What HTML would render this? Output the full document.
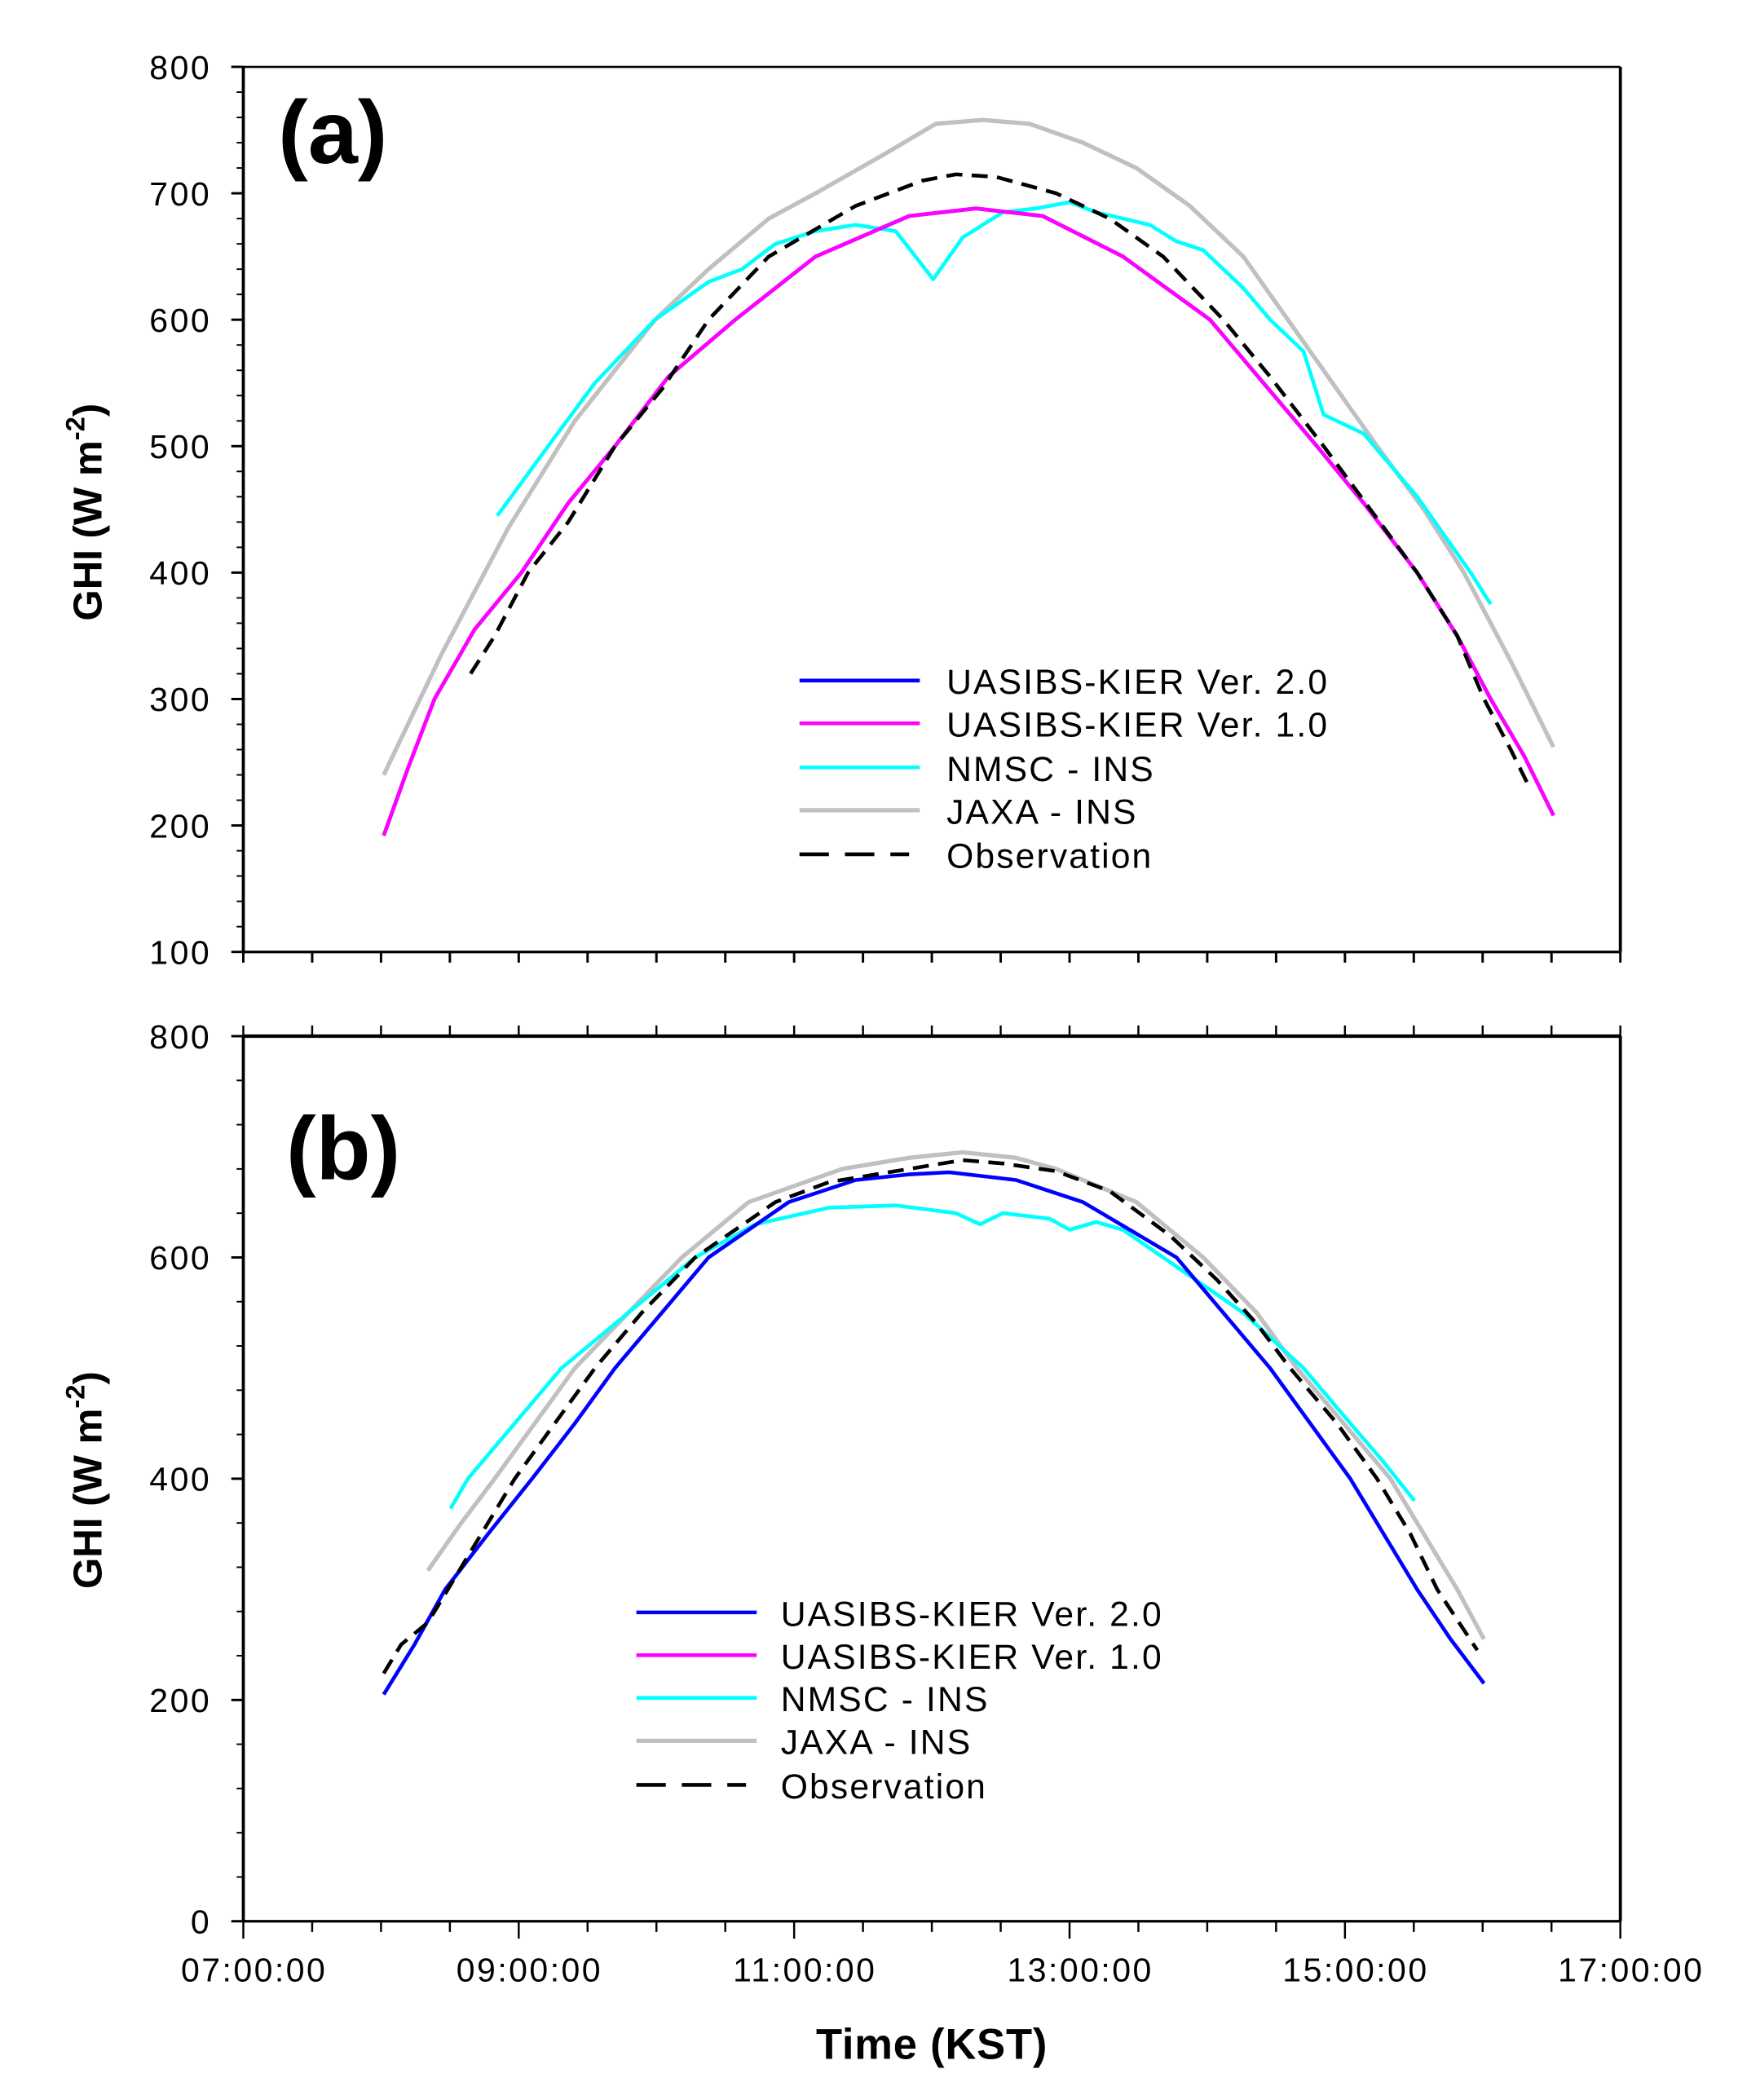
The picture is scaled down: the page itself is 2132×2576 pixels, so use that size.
<!DOCTYPE html>
<html><head><meta charset="utf-8"><style>
html,body{margin:0;padding:0;background:#fff}
svg{display:block}
text{font-family:"Liberation Sans",Arial,sans-serif;fill:#000}
</style></head><body>
<svg id="s" width="2132" height="2576" viewBox="0 0 1300 1570.7" preserveAspectRatio="none" xmlns="http://www.w3.org/2000/svg">
<g id="g"></g>
<text x="208" y="122" font-size="67" font-weight="bold">(a)</text>
<text x="214" y="882" font-size="67" font-weight="bold">(b)</text>
<text x="697" y="1540" font-size="32" font-weight="bold" text-anchor="middle" letter-spacing="0.5">Time (KST)</text>
<text transform="translate(76,383) rotate(-90)" font-size="30" font-weight="bold" text-anchor="middle">GHI (W m<tspan dy="-13" font-size="20">-2</tspan><tspan dy="13">)</tspan></text>
<text transform="translate(76,1107) rotate(-90)" font-size="30" font-weight="bold" text-anchor="middle">GHI (W m<tspan dy="-13" font-size="20">-2</tspan><tspan dy="13">)</tspan></text>
</svg>
<script>
var NS="http://www.w3.org/2000/svg",g=document.getElementById('g');
function el(t,a,txt){var e=document.createElementNS(NS,t);for(var k in a)e.setAttribute(k,a[k]);if(txt!=null)e.textContent=txt;g.appendChild(e);return e;}
function ya(v){return 50+(800-v)*0.9457;}
function yb(v){return 1437-v*0.8275;}
function line(pts,yf,col,w,dash){var s=pts.map(function(p){return p[0]+","+yf(p[1]).toFixed(1)}).join(" ");var a={points:s,fill:"none",stroke:col,"stroke-width":w,"stroke-linejoin":"round"};if(dash)a["stroke-dasharray"]=dash;el("polyline",a);}
function axes(top,bot){
  el("line",{x1:182,y1:top,x2:1212,y2:top,stroke:"#000","stroke-width":top>700?2.6:1.6});
  el("line",{x1:182,y1:bot,x2:1212,y2:bot,stroke:"#000","stroke-width":2});
  el("line",{x1:182,y1:top,x2:182,y2:bot,stroke:"#000","stroke-width":2.3});
  el("line",{x1:1212,y1:top,x2:1212,y2:bot,stroke:"#000","stroke-width":2.3});
}
axes(50,712);axes(775,1437);
for(var v=100;v<=800;v+=20){var y=ya(v),maj=(v%100==0);el("line",{x1:maj?173:177,y1:y,x2:182,y2:y,stroke:"#000","stroke-width":maj?1.8:1.2});if(maj)el("text",{x:158,y:y+9,"font-size":25,"text-anchor":"end","letter-spacing":"1.5"},v);}
for(var v=0;v<=800;v+=40){var y=yb(v),maj=(v%200==0);el("line",{x1:maj?173:177,y1:y,x2:182,y2:y,stroke:"#000","stroke-width":maj?1.8:1.2});if(maj)el("text",{x:158,y:y+9,"font-size":25,"text-anchor":"end","letter-spacing":"1.5"},v);}
for(var i=0;i<=20;i++){var x=182+i*51.5,maj=(i%4==0);
 el("line",{x1:x,y1:712,x2:x,y2:720,stroke:"#000","stroke-width":1.8});
 el("line",{x1:x,y1:775,x2:x,y2:767,stroke:"#000","stroke-width":1.5});
 el("line",{x1:x,y1:1437,x2:x,y2:maj?1450:1445,stroke:"#000","stroke-width":1.5});
 if(maj){var h=7+i/2;el("text",{x:x+8,y:1482,"font-size":25,"text-anchor":"middle","letter-spacing":"1.5"},(h<10?"0":"")+h+":00:00");}
}
var magA=[[287,192],[305,245],[325,300],[355,355],[390,400],[425,455],[460,500],[500,555],[550,600],[610,650],[680,682],[730,688],[780,682],[840,650],[905,600],[945,550],[985,500],[1020,455],[1060,400],[1090,350],[1115,300],[1140,255],[1162,208]];
var gryA=[[287,240],[330,335],[380,435],[430,520],[490,600],[530,640],[575,680],[610,700],[660,730],[700,755],[735,758],[770,755],[810,740],[850,720],[890,690],[930,650],[990,560],[1030,500],[1065,450],[1095,400],[1130,330],[1162,262]];
var obsA=[[352,320],[370,350],[395,400],[425,440],[460,500],[495,545],[530,600],[575,650],[640,690],[690,710],[715,715],[745,713],[790,700],[830,680],[870,650],[915,600],[950,555],[990,500],[1025,450],[1060,400],[1090,350],[1110,300],[1130,260],[1145,228]];
var cyA=[[372,445],[410,500],[445,550],[490,600],[530,630],[555,640],[580,660],[610,670],[640,675],[670,670],[698,632],[720,665],[750,685],[775,688],[800,693],[820,685],[840,680],[860,675],[880,662],[900,655],[930,625],[950,600],[975,575],[990,525],[1020,510],[1060,460],[1100,400],[1115,375]];
line(gryA,ya,"#c0c0c0",3.2);
line(cyA,ya,"#00ffff",2.8);
line(magA,ya,"#0000ff",2.8);
line(magA,ya,"#ff00ff",2.8);
line(obsA,ya,"#000",2.8,"12,7");
var bluB=[[287,205],[310,250],[333,300],[365,350],[398,400],[430,450],[460,500],[495,550],[530,600],[590,650],[640,670],[680,675],[710,677],[760,670],[810,650],[880,600],[915,550],[950,500],[980,450],[1010,400],[1035,350],[1060,300],[1085,255],[1110,215]];
var obsB=[[287,224],[300,250],[320,270],[335,300],[360,350],[385,400],[415,450],[445,500],[480,550],[520,600],[580,650],[620,668],[680,680],[720,688],[750,685],[790,678],[830,660],[875,620],[910,580],[940,540],[965,500],[1000,450],[1030,400],[1055,350],[1075,300],[1105,245]];
var gryB=[[320,317],[345,360],[370,400],[400,450],[430,500],[470,550],[510,600],[560,650],[630,680],[680,690],[720,695],[760,690],[790,680],[850,650],[900,600],[940,550],[970,500],[1005,450],[1040,400],[1065,350],[1090,300],[1110,255]];
var cyB=[[337,373],[350,400],[385,450],[420,500],[470,550],[520,600],[565,630],[620,645],[670,647],[715,640],[733,630],[750,640],[785,635],[800,625],[820,632],[840,625],[870,600],[900,575],[930,550],[975,500],[1010,450],[1035,415],[1058,380]];
line(gryB,yb,"#c0c0c0",3.2);
line(cyB,yb,"#00ffff",2.8);
line(bluB,yb,"#0000ff",2.8);
line(obsB,yb,"#000",2.8,"12,7");
function legend(lx,tx,ys){
 var cols=["#0000ff","#ff00ff","#00ffff","#c0c0c0","#000"];
 var labs=["UASIBS-KIER Ver. 2.0","UASIBS-KIER Ver. 1.0","NMSC - INS","JAXA - INS","Observation"];
 for(var i=0;i<5;i++){var a={x1:lx,y1:ys[i],x2:lx+90,y2:ys[i],stroke:cols[i],"stroke-width":i==3?3.2:2.8};if(i==4){a["stroke-dasharray"]="22,12";a.x2=lx+82;}
 el("line",a);el("text",{x:tx,y:ys[i]+10,"font-size":26,"letter-spacing":"1.3"},labs[i]);}
}
legend(598,708,[509,541,574,606,639]);
legend(476,584,[1206,1238,1270,1302,1335]);
</script>
</body></html>
